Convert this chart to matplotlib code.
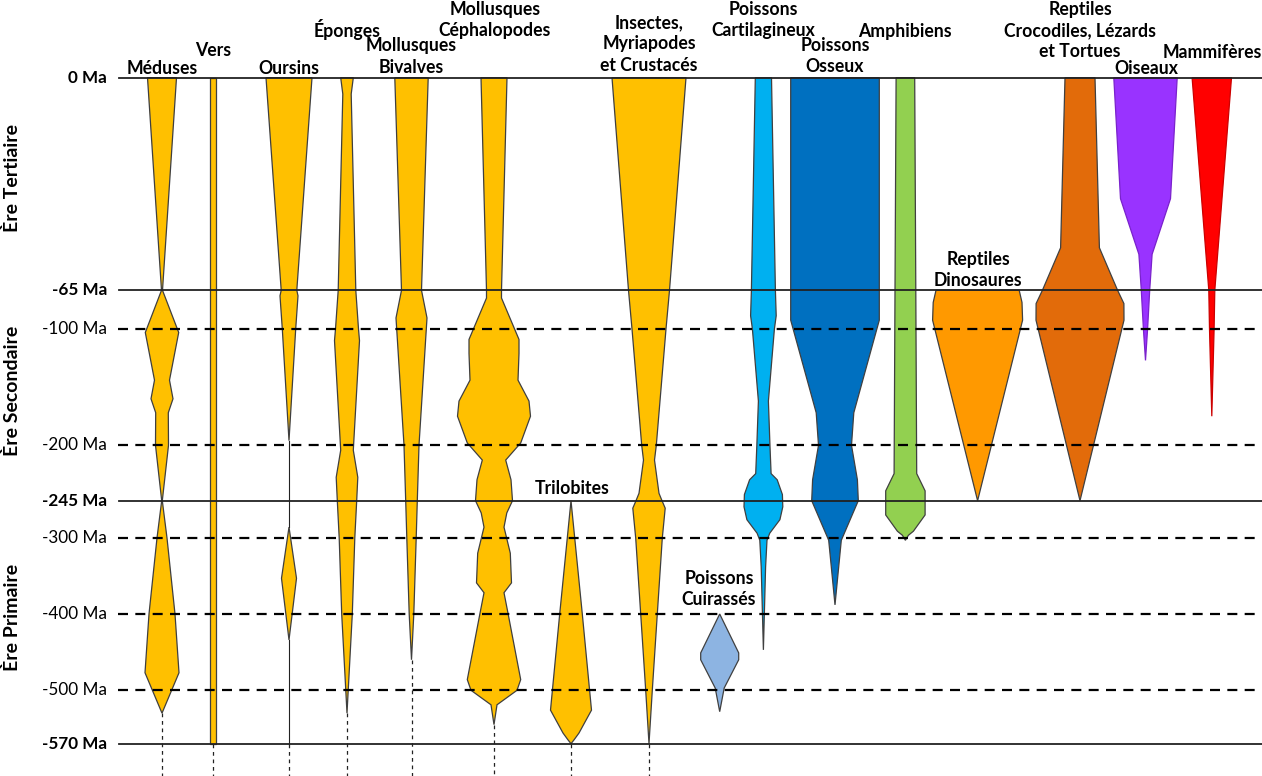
import numpy as np
import matplotlib
matplotlib.use("Agg")
import matplotlib.pyplot as plt

plt.rcParams['font.family'] = ['Lato', 'DejaVu Sans']

# ---------------- data (ages in Ma, half-widths = relative diversity) ----------------
meduses_age = [0, 65, 103, 144, 160, 172, 200, 245, 300, 400, 477, 530]
meduses_w   = [14.5, 0.5, 16.7, 7.5, 11, 6.3, 6.5, 0.3, 5, 13, 17, 0]

vers_age = [0, 570]
vers_w   = [2.7, 2.7]

oursins1_age = [0, 65, 70, 100, 196]
oursins1_w   = [23, 7.8, 9, 6.7, 0]
oursins2_age = [284, 353, 434]
oursins2_w   = [0, 7.5, 0]

eponges_age = [0, 5, 65, 100, 110, 204, 226, 245, 300, 400, 530]
eponges_w   = [6.3, 4.2, 8.8, 11.5, 12.5, 6.3, 10.8, 9.7, 7.8, 5.3, 0]

bivalves_age = [0, 65, 90, 200, 245, 300, 400, 460]
bivalves_w   = [16.7, 10, 15.5, 7.5, 5.8, 4.7, 2.3, 0]

cephalo_age = [0, 65, 72, 109, 121, 144, 162, 175, 198, 212, 228, 245, 263, 284,
               320, 359, 372, 399, 486, 500, 519, 545]
cephalo_w   = [13, 7.5, 7.5, 25, 25, 24, 35, 36.5, 26.7, 11.7, 17, 18.5, 12.8, 10,
               16.3, 17.5, 10, 14, 26.7, 23, 3, 0]

insectes_age = [0, 65, 100, 200, 212, 239, 245, 256, 300, 400, 500, 570]
insectes_w   = [37, 20.5, 17, 7.3, 5.5, 10, 13, 16.2, 13.3, 8.3, 3.3, 0]

trilobites_age = [245, 400, 526, 556, 565, 570]
trilobites_w   = [0, 11.3, 20.5, 8, 3, 0]

cuirasses_age = [400, 451, 460, 497, 528]
cuirasses_w   = [0, 19, 19, 4.5, 0]

cartilag_age = [0, 65, 88, 100, 162, 201, 223, 228, 240, 254, 273, 293, 303, 338, 447]
cartilag_w   = [8.1, 12, 12.8, 11, 5, 6.6, 7.7, 13.8, 19, 19.4, 16.5, 6.3, 3.6, 2.2, 0]

osseux_age = [0, 92, 172, 200, 228, 245, 303, 388]
osseux_w   = [44.3, 44.3, 18.8, 16.5, 22.4, 23.3, 6.3, 0]

amphib_age = [0, 65, 223, 237, 266, 290, 296, 303]
amphib_w   = [9.3, 10.4, 11.3, 19.7, 19.7, 8, 3, 0]

dino_age = [65, 76, 92, 245]
dino_w   = [41.6, 44.4, 45, 0]

croco_age = [0, 52, 65, 77, 92, 245]
croco_w   = [15, 19.4, 37.6, 43.9, 44, 0]

oiseaux_age = [0, 37, 54, 65, 100, 127]
oiseaux_w   = [31.7, 25, 6.6, 4.2, 2.1, 0]

mammif_age = [0, 65, 100, 175]
mammif_w   = [19.7, 3, 2.3, 0]

tick_ages  = [0, 65, 100, 200, 245, 300, 400, 500, 570]
tick_bold  = [True, True, False, False, True, False, False, False, True]
solid_ages = [0, 65, 245, 570]
dash_ages  = [100, 200, 300, 400, 500]

eras = ["Ère Tertiaire", "Ère Secondaire", "Ère Primaire"]

# ---------------- layout ----------------
W, H = 1262, 776
AGE_KNOTS = np.array([0, 65, 100, 200, 245, 300, 400, 500, 570], float)
PX_KNOTS = np.array([77.7, 290.3, 329, 445.3, 500.7, 538, 614, 690.3, 743.7])
S_TOP = (PX_KNOTS[1] - PX_KNOTS[0]) / 65.0
S_BOT = (PX_KNOTS[-1] - PX_KNOTS[-2]) / 70.0


def fwd(y):
    a = -np.asarray(y, float)
    p = np.interp(a, AGE_KNOTS, PX_KNOTS)
    p = np.where(a < 0, PX_KNOTS[0] + a * S_TOP, p)
    p = np.where(a > 570, PX_KNOTS[-1] + (a - 570) * S_BOT, p)
    return -p


def inv(v):
    p = -np.asarray(v, float)
    a = np.interp(p, PX_KNOTS, AGE_KNOTS)
    a = np.where(p < PX_KNOTS[0], (p - PX_KNOTS[0]) / S_TOP, a)
    a = np.where(p > PX_KNOTS[-1], 570 + (p - PX_KNOTS[-1]) / S_BOT, a)
    return -a


fig = plt.figure(figsize=(W / 100, H / 100), dpi=100)
ax = fig.add_axes([0, 0, 1, 1])
ax.set_yscale('function', functions=(fwd, inv))
ymin = float(inv(-H))
ymax = float(inv(0.0))
ax.set_xlim(0, W)
ax.set_ylim(ymin, ymax)
ax.axis('off')

YEL = '#FFC000'
EDGE = '#3F3F3F'

spindles = [
    (meduses_age, meduses_w, 162, YEL, EDGE),
    (vers_age, vers_w, 213, YEL, EDGE),
    (oursins1_age, oursins1_w, 289, YEL, EDGE),
    (oursins2_age, oursins2_w, 289, YEL, EDGE),
    (eponges_age, eponges_w, 347, YEL, EDGE),
    (bivalves_age, bivalves_w, 411.5, YEL, EDGE),
    (cephalo_age, cephalo_w, 494, YEL, EDGE),
    (insectes_age, insectes_w, 649, YEL, EDGE),
    (trilobites_age, trilobites_w, 571, YEL, EDGE),
    (cuirasses_age, cuirasses_w, 719.7, '#8DB4E2', '#404040'),
    (cartilag_age, cartilag_w, 763.4, '#00B0F0', '#404040'),
    (osseux_age, osseux_w, 835, '#0070C0', '#404040'),
    (amphib_age, amphib_w, 905.4, '#92D050', '#404040'),
    (dino_age, dino_w, 977.6, '#FF9900', '#404040'),
    (croco_age, croco_w, 1080, '#E26B0A', '#404040'),
    (oiseaux_age, oiseaux_w, 1145.5, '#9933FF', '#7a22cc'),
    (mammif_age, mammif_w, 1211.8, '#FF0000', '#cc0000'),
]

for ages, hw, c, fc, ec in spindles:
    a = np.asarray(ages, float)
    w = np.asarray(hw, float)
    xs = np.concatenate([c - w, (c + w)[::-1]])
    ys = np.concatenate([-a, -a[::-1]])
    ax.fill(xs, ys, facecolor=fc, edgecolor=ec, linewidth=0.9, zorder=2)

# thin solid stems (Oursins)
ax.plot([289, 289], [-196, -284], color='#222222', lw=0.8, zorder=2)
ax.plot([289, 289], [-434, -570], color='#222222', lw=0.8, zorder=2)

# dotted continuations below
dotted = [(162, 530), (213, 570), (289, 570), (347, 530), (411.5, 460),
          (494, 545), (571, 570), (649, 570)]
for x, a in dotted:
    ax.plot([x, x], [-a, ymin], color='#222222', lw=0.9, ls=(0, (3, 3)), zorder=2)

# horizontal time lines
for a in solid_ages:
    ax.plot([119, W], [-a, -a], color='#222222', lw=1.3, zorder=3)
for a in dash_ages:
    ax.plot([118, W], [-a, -a], color='black', lw=1.6, ls=(0, (4.5, 3.3)), zorder=3)

# tick labels
for a, b in zip(tick_ages, tick_bold):
    ax.text(107, -a, f"{-a} Ma" if a else "0 Ma", ha='right', va='center',
            fontsize=12.3, fontweight='bold' if b else 'normal', color='black', zorder=4)

# era labels
for name, py in zip(eras, [178, 391, 617]):
    fig.text(12 / W, 1 - py / H, name, rotation=90, ha='center', va='center',
             fontsize=14, fontweight='bold')

# taxon labels
labels = ["Méduses", "Vers", "Oursins", "Éponges", "Mollusques\nBivalves",
          "Mollusques\nCéphalopodes", "Insectes,\nMyriapodes\net Crustacés",
          "Trilobites", "Poissons\nCuirassés", "Poissons\nCartilagineux",
          "Poissons\nOsseux", "Amphibiens", "Reptiles\nDinosaures",
          "Reptiles\nCrocodiles, Lézards\net Tortues", "Oiseaux", "Mammifères"]
label_x = [162, 213, 289, 347, 411, 495, 649, 572, 719, 763, 835, 905, 978, 1080, 1146, 1212]
label_y = [68, 50, 68, 30, 56.5, 20, 44, 488, 589, 20, 56, 32, 270, 30.5, 68, 53]
for t, x, y in zip(labels, label_x, label_y):
    fig.text(x / W, 1 - y / H, t, ha='center', va='center', fontsize=12.7,
             fontweight='bold', linespacing=1.3, zorder=5)

fig.savefig("out.png", dpi=100)
